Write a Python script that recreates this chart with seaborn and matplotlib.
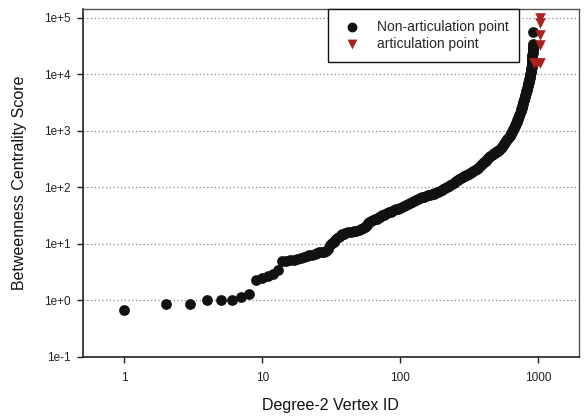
import numpy as np
import pandas as pd
import matplotlib
matplotlib.use("Agg")
import matplotlib.pyplot as plt
import seaborn as sns

# ---- data ----
non_art_ids = [1, 2, 3, 4, 5, 6, 7, 8, 9, 10, 11, 12, 13, 14,
               15, 16, 17, 18, 19, 20, 21, 22, 23, 24, 25, 26, 27, 28, 29, 30,
               31, 32, 33, 34, 35, 36, 37, 38, 39, 40, 42, 44, 46, 48, 50, 52, 54, 56, 57, 58,
               59, 60, 62, 64, 66, 68, 70, 72, 74, 76, 78, 80, 83, 86, 88, 91, 94, 97, 100,
               104, 107, 111, 115, 119, 123, 127, 131, 135, 140, 145, 150, 155, 160, 165, 170,
               175, 180, 185, 190, 195, 200, 206, 212, 218, 225, 232, 240, 247, 255, 262, 270,
               277, 285, 292, 300, 308, 316, 324, 332, 341, 350, 359, 368, 376, 385, 392, 400,
               409, 418, 426, 435, 443, 452, 461, 470, 479, 488, 496, 505, 513, 521, 530, 540,
               550, 560, 570, 580, 590, 600, 608, 617, 626, 635, 642, 650, 658, 665, 672, 680,
               688, 695, 702, 708, 714, 720, 728, 735, 742, 750, 758, 765, 772, 780, 786, 792,
               799, 805, 812, 818, 824, 830, 836, 842, 847, 852, 857, 861, 866, 870, 874, 878,
               882, 885, 889, 892, 896, 900, 902, 904, 906, 908, 910, 911, 913, 914, 915, 916,
               917, 918, 919, 920, 922]
non_art_scores = [0.665, 0.86, 0.86, 1.0, 1.0, 1.0, 1.14, 1.28, 2.26, 2.52, 2.69, 2.97, 3.4, 4.9,
                  5.0, 5.1, 5.3, 5.5, 5.7, 5.9, 6.1, 6.3, 6.4, 6.6, 6.9, 7.1, 7.2, 7.3, 7.5, 8.0,
                  9.5, 10.3, 11.0, 11.8, 12.5, 13.2, 14.2, 15.0, 15.3, 15.6, 16.0, 16.4, 16.9,
                  17.3, 17.7, 18.1, 18.8, 19.6, 20.5, 21.8, 23.2, 24.5, 25.3, 26.2, 27.2, 28.2,
                  29.5, 30.6, 32.0, 33.0, 34.0, 35.0, 36.5, 37.5, 38.5, 39.8, 41.0, 42.0, 43.0,
                  45.5, 47.0, 49.0, 51.0, 53.2, 55.5, 57.8, 60.0, 62.2, 64.5, 66.8, 69.0, 70.8,
                  72.5, 74.2, 76.0, 77.5, 79.0, 81.5, 84.0, 87.0, 90.0, 93.5, 97.0, 101.0, 106.0,
                  111.0, 117.0, 122.0, 128.0, 134.0, 140.0, 146.0, 152.0, 157.0, 163.0, 169.0,
                  175.0, 182.0, 190.0, 198.0, 206.0, 215.0, 224.0, 234.0, 245.0, 257.0, 270.0,
                  285.0, 300.0, 315.0, 330.0, 345.0, 360.0, 375.0, 390.0, 402.0, 415.0, 428.0,
                  440.0, 450.0, 460.0, 480.0, 500.0, 530.0, 560.0, 595.0, 630.0, 670.0, 710.0,
                  745.0, 780.0, 830.0, 880.0, 925.0, 970.0, 1025.0, 1080.0, 1150.0, 1220.0,
                  1300.0, 1380.0, 1460.0, 1540.0, 1620.0, 1700.0, 1820.0, 1950.0, 2100.0, 2250.0,
                  2420.0, 2600.0, 2820.0, 3050.0, 3250.0, 3470.0, 3730.0, 4000.0, 4350.0, 4700.0,
                  5050.0, 5400.0, 5800.0, 6200.0, 6600.0, 7000.0, 7400.0, 7800.0, 8300.0, 8800.0,
                  9350.0, 9900.0, 10400.0, 11000.0, 11600.0, 12200.0, 12800.0, 13500.0, 14200.0,
                  15000.0, 16000.0, 17000.0, 18200.0, 19500.0, 21000.0, 22500.0, 24200.0,
                  26000.0, 28000.0, 30000.0, 32000.0, 34000.0, 57000.0]

art_ids = [935, 985, 1030, 1030, 1033, 1028, 1028]
art_scores = [16000.0, 16000.0, 16000.0, 33000.0, 49000.0, 82000.0, 98000.0]

series_labels = ["Non-articulation point", "articulation point"]
x_ticks = [1, 10, 100, 1000]
x_tick_labels = ["1", "10", "100", "1000"]
y_ticks = [1e-1, 1e0, 1e1, 1e2, 1e3, 1e4, 1e5]
y_tick_labels = ["1e-1", "1e+0", "1e+1", "1e+2", "1e+3", "1e+4", "1e+5"]
x_label = "Degree-2 Vertex ID"
y_label = "Betweenness Centrality Score"

df = pd.DataFrame({
    "id": non_art_ids + art_ids,
    "score": non_art_scores + art_scores,
    "type": [series_labels[0]] * len(non_art_ids) + [series_labels[1]] * len(art_ids),
})

sns.set_style("white")
plt.rcParams["font.family"] = ["Liberation Sans", "DejaVu Sans"]

fig = plt.figure(figsize=(5.84, 4.18), dpi=100)
ax = fig.add_axes([0.142, 0.146, 0.849, 0.832])

black = "#111111"
red = "#a8231f"
for lab, col, mk, s in [(series_labels[0], black, "o", 60), (series_labels[1], red, "v", 58)]:
    sub = df[df["type"] == lab]
    sns.scatterplot(data=sub, x="id", y="score", color=col, marker=mk, s=s,
                    linewidth=0, ax=ax, label=lab, zorder=3)

ax.set_xscale("log")
ax.set_yscale("log")
ax.set_xlim(0.5, 1980)
ax.set_ylim(0.1, 1.43e5)

ax.set_xticks(x_ticks)
ax.set_xticklabels(x_tick_labels)
ax.set_yticks(y_ticks)
ax.set_yticklabels(y_tick_labels)
ax.xaxis.set_minor_locator(matplotlib.ticker.NullLocator())
ax.yaxis.set_minor_locator(matplotlib.ticker.NullLocator())

ax.tick_params(axis="both", which="major", direction="out", length=4, width=1,
               color="#222222", labelsize=8.5, labelcolor="#222222", pad=5,
               left=True, bottom=True)
ax.tick_params(axis="x", pad=7)

ax.grid(False)
for yv in y_ticks[1:]:
    ax.axhline(yv, color="#8a8a8a", linewidth=0.9, linestyle=(0, (1, 2)), zorder=1)

for side in ["left", "bottom"]:
    ax.spines[side].set_color("#222222")
    ax.spines[side].set_linewidth(1.2)
for side in ["top", "right"]:
    ax.spines[side].set_color("#555555")
    ax.spines[side].set_linewidth(1.0)

ax.set_xlabel(x_label, fontsize=11.5, color="#111111", labelpad=10)
ax.set_ylabel(y_label, fontsize=11.5, color="#111111", labelpad=12)

handles, labels = ax.get_legend_handles_labels()
leg = ax.legend(handles, labels, loc="upper left", bbox_to_anchor=(0.494, 1.0),
                borderaxespad=0, fontsize=10, frameon=True, fancybox=False,
                shadow=False, framealpha=1, edgecolor="#111111",
                labelspacing=0.25, borderpad=0.75, handlelength=2.0,
                handletextpad=0.8)
leg.get_frame().set_linewidth(1.0)
for h in leg.legend_handles:
    try:
        h.set_sizes([50])
    except Exception:
        pass

fig.savefig("out.png", dpi=100)
